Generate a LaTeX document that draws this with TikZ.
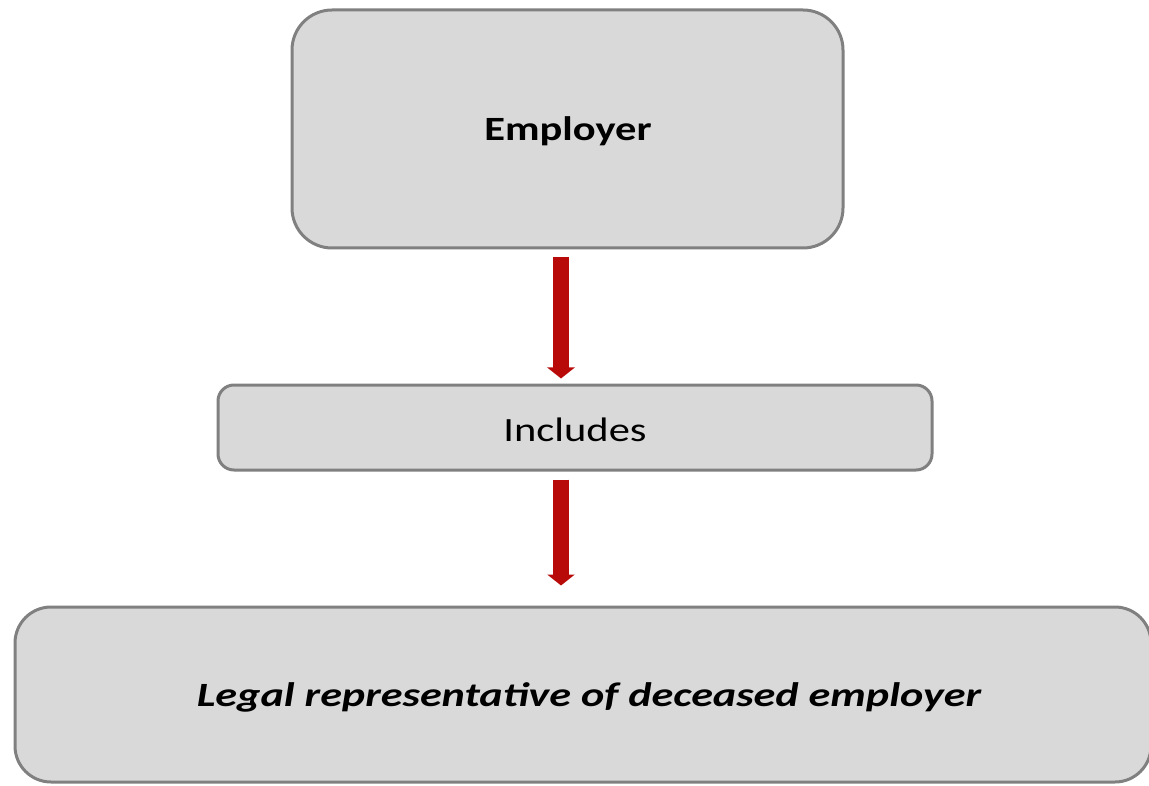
\documentclass[tikz,border=0pt]{standalone}
\usepackage{fontspec}
\setmainfont{Carlito}
\usepackage{graphicx}
\usetikzlibrary{arrows.meta}
\definecolor{boxfill}{RGB}{217,217,217}
\definecolor{boxline}{RGB}{128,128,128}
\definecolor{arrowred}{RGB}{185,10,10}
\tikzset{
  greybox/.style={draw=boxline, fill=boxfill, line width=3pt, inner sep=0pt},
  redarrow/.style={draw=arrowred, line width=16pt, -{Triangle[width=27pt,length=11pt]}}
}
\newcommand{\wide}[2][1.25]{\scalebox{#1}[1]{#2}}
\begin{document}
\begin{tikzpicture}[x=1pt,y=-1pt]
                \useasboundingbox (0,0) rectangle (1149,786);
                \node[greybox, rounded corners=40pt, minimum width=551pt, minimum height=238pt] (emp) at (567.5,129) {};
                \node[greybox, rounded corners=16pt, minimum width=714pt, minimum height=85pt] (inc) at (575,427.5) {};
                \node[greybox, rounded corners=36pt, minimum width=1136pt, minimum height=175pt] (rep) at (583,694.5) {};

                \node[font=\fontsize{34}{40}\selectfont\bfseries] (emptext) at (568,131) {\wide{Employer}};
                \node[font=\fontsize{34}{40}\selectfont] (inctext) at (575,430) {\wide{Includes}};
                \node[font=\fontsize{34}{40}\selectfont\bfseries\itshape] (reptext) at (589,697) {\wide[1.3]{Legal representative of deceased employer}};

                \draw[redarrow, shorten <=8pt, shorten >=5pt] ([xshift=-6.5pt]emp.south) to ([xshift=-6.5pt]emp.south |- inc.north);
                \draw[redarrow, shorten <=8pt, shorten >=20pt] ([xshift=-14pt]inc.south) to ([xshift=-14pt]inc.south |- rep.north);
            \end{tikzpicture}
\end{document}
